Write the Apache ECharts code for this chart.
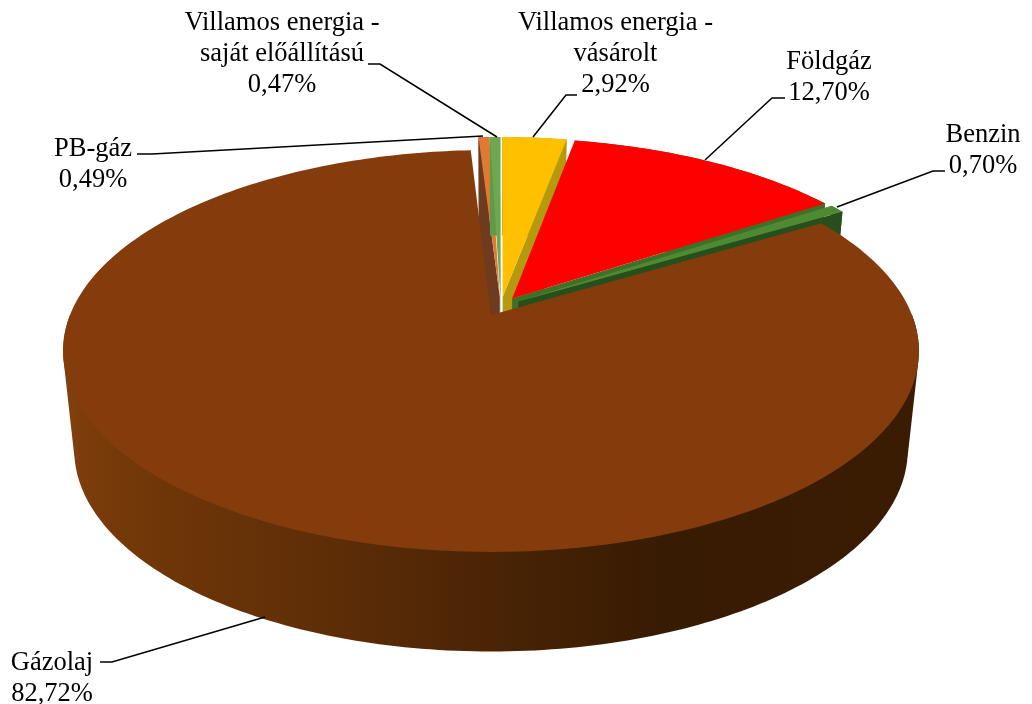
<!DOCTYPE html>
<html><head><meta charset="utf-8">
<style>html,body{margin:0;padding:0;background:#fff}#c{width:1032px;height:704px}</style>
<script src="https://cdn.jsdelivr.net/npm/echarts@6/dist/echarts.min.js"></script>
</head><body><div id="c"></div>
<script>
// ---- data ----
const categories = ['PB-gáz','Villamos energia - saját előállítású','Villamos energia - vásárolt','Földgáz','Benzin','Gázolaj'];
const shares = [0.49,0.47,2.92,12.70,0.70,82.72];
const labelLines = [['PB-gáz'],['Villamos energia -','saját előállítású'],['Villamos energia -','vásárolt'],['Földgáz'],['Benzin'],['Gázolaj']];

// ---- styles and layout (not data) ----
const topColors = ['#E07A33','#6BA84F','#FFC000','#FF0000','#4F8A32','#843C0C'];
const wallColors = ['#6E3A20','#5F9A48','#B59A10','#3E7028','#274F1B','#5A2C06'];
const labelPos = [
  {x:93,y:134},{x:282,y:8},{x:615.5,y:8},{x:829,y:47},{x:983,y:120},{x:52,y:648}
];
const leaders = [
  [[137,154],[152,154],[483,136]],
  [[368,64],[380,64],[497,137]],
  [[577,95],[566,95],[533,137]],
  [[785,98],[772,98],[705,160]],
  [[945,171],[933,171],[837,207]],
  [[100,662],[112,662],[265,617]]
];
const FONT = '"Liberation Serif","Times New Roman",serif';
const START = -3.25, EXPLODE = 0.05, K = 0.179;
const TOP = {cx:491, cy:315, R:421, S:194.5};
const BOT = {cx:491, cy:414, R:410, S:195};

const total = shares.reduce((a,b)=>a+b,0);
const ranges = []; { let a = START; shares.forEach(s=>{ const b=a+s/total*360; ranges.push([a,b]); a=b; }); }
const rad = d=>d*Math.PI/180;
const dir = d=>[Math.sin(rad(d)),-Math.cos(rad(d))];
const midOf = i=>(ranges[i][0]+ranges[i][1])/2;
function shift(i){
  const d=dir(midOf(i)), g=dir(midOf(shares.length-1));
  return [EXPLODE*(d[0]-g[0]),EXPLODE*(d[1]-g[1])];
}
function proj(u,v,P){ const w=1-K*v; return [P.cx+P.R*u/w, P.cy+P.S*v/w]; }
function rim(i,a,P){ const s=shift(i), d=dir(a); return proj(d[0]+s[0],d[1]+s[1],P); }
function apex(i,P){ const s=shift(i); return proj(s[0],s[1],P); }
function arc(i,P,from,to){
  const a=from===undefined?ranges[i][0]:from, b=to===undefined?ranges[i][1]:to;
  const pts=[], n=Math.max(2,Math.ceil(b-a));
  for(let j=0;j<=n;j++) pts.push(rim(i,a+(b-a)*j/n,P));
  return pts;
}
function hull(pts){
  const p=pts.slice().sort((a,b)=>a[0]-b[0]||a[1]-b[1]);
  const cross=(o,a,b)=>(a[0]-o[0])*(b[1]-o[1])-(a[1]-o[1])*(b[0]-o[0]);
  const lo=[],up=[];
  p.forEach(q=>{while(lo.length>1&&cross(lo[lo.length-2],lo[lo.length-1],q)<=0)lo.pop();lo.push(q);});
  p.slice().reverse().forEach(q=>{while(up.length>1&&cross(up[up.length-2],up[up.length-1],q)<=0)up.pop();up.push(q);});
  return lo.slice(0,-1).concat(up.slice(0,-1));
}
function renderSlice(params){
  const i=params.dataIndex, last=i===shares.length-1, children=[];
  const topArc=arc(i,TOP);
  if(last){
    // front half of the drum: hull of the upper and lower rims
    const wallFill=new echarts.graphic.LinearGradient(63,0,919,0,[
      {offset:0,color:'#84400C'},{offset:.03,color:'#7A3C0A'},{offset:.12,color:'#6E3608'},{offset:.3,color:'#5F2E07'},
      {offset:.5,color:'#4A2405'},{offset:.7,color:'#381B03'},{offset:1,color:'#3A1C03'}],true);
    children.push({type:'polygon',shape:{points:hull(arc(i,TOP,90,270).concat(arc(i,BOT,90,270)))},style:{fill:wallFill}});
  } else {
    const botArc=arc(i,BOT);
    children.push({type:'polygon',shape:{points:topArc.concat(botArc.slice().reverse())},style:{fill:wallColors[i]}});
    // radial wall: leading edge for the first slice, trailing edge otherwise
    const a=i===0?ranges[i][0]:ranges[i][1];
    children.push({type:'polygon',shape:{points:[apex(i,TOP),rim(i,a,TOP),rim(i,a,BOT),apex(i,BOT)]},style:{fill:wallColors[i]}});
  }
  // top face
  children.push({type:'polygon',shape:{points:[apex(i,TOP)].concat(topArc)},style:{fill:topColors[i]}});
  return {type:'group',children};
}
function renderLabel(params){
  const i=params.dataIndex, p=labelPos[i];
  const pct=shares[i].toFixed(2).replace('.',',')+'%';
  const lines=labelLines[i].concat([pct]);
  return {type:'group',children:[
    {type:'polyline',shape:{points:leaders[i]},style:{fill:null,stroke:'#000',lineWidth:1.5}},
    {type:'text',x:p.x,y:p.y,style:{text:lines.join('\n'),font:'26.5px '+FONT,fill:'#000',align:'center',verticalAlign:'top',lineHeight:31}}
  ]};
}
const seriesData = categories.map((n,i)=>({name:n,value:shares[i]}));
const chart = echarts.init(document.getElementById('c'),null,{renderer:'canvas'});
chart.setOption({
  animation:false,
  backgroundColor:'#fff',
  series:[
    {type:'custom',coordinateSystem:'none',silent:true,renderItem:renderSlice,data:seriesData,z:1},
    {type:'custom',coordinateSystem:'none',silent:true,renderItem:renderLabel,data:seriesData,z:2}
  ]
});
</script></body></html>
